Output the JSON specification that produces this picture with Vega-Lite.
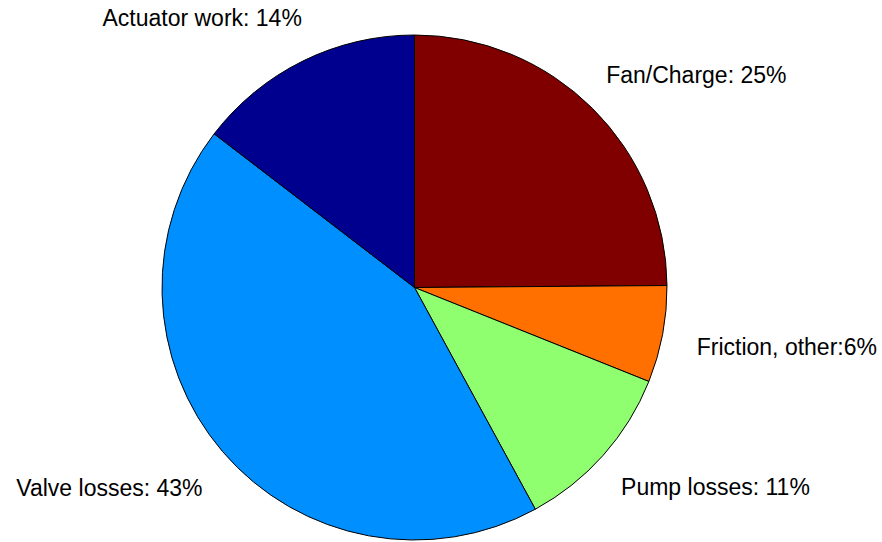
{
  "$schema": "https://vega.github.io/schema/vega-lite/v6.json",
  "width": 505,
  "height": 505,
  "autosize": "none",
  "padding": {"left": 162, "top": 35, "right": 215, "bottom": 2},
  "background": "white",
  "config": {"view": {"stroke": null}},
  "data": {
    "values": [
      {"slice": 1, "part": "Fan/Charge", "value": 24.9, "label": "Fan/Charge: 25%"},
      {"slice": 2, "part": "Friction", "value": 6.2, "label": "Friction, other:6%"},
      {"slice": 3, "part": "Pump", "value": 11.0, "label": "Pump losses: 11%"},
      {"slice": 4, "part": "Valve", "value": 43.4, "label": "Valve losses: 43%"},
      {"slice": 5, "part": "Actuator", "value": 14.6, "label": "Actuator work: 14%"}
    ]
  },
  "encoding": {
    "theta": {"field": "value", "type": "quantitative", "stack": true},
    "order": {"field": "slice", "type": "quantitative", "sort": "ascending"}
  },
  "layer": [
    {
      "mark": {"type": "arc", "outerRadius": 252.5, "stroke": "black", "strokeWidth": 1},
      "encoding": {
        "color": {
          "field": "part",
          "type": "nominal",
          "scale": {
            "domain": ["Fan/Charge", "Friction", "Pump", "Valve", "Actuator"],
            "range": ["#800000", "#FF7000", "#8FFF70", "#008FFF", "#00008F"]
          },
          "legend": null
        }
      }
    },
    {
      "mark": {"type": "text", "radius": 275, "align": "left", "baseline": "alphabetic", "dx": -2, "dy": -9, "font": "Liberation Sans", "fontSize": 23, "fill": "black"},
      "encoding": {"text": {"condition": {"test": "datum.part === 'Fan/Charge'", "field": "label", "type": "nominal"}, "value": ""}}
    },
    {
      "mark": {"type": "text", "radius": 275, "align": "left", "baseline": "alphabetic", "dx": 12, "dy": 16, "font": "Liberation Sans", "fontSize": 23, "fill": "black"},
      "encoding": {"text": {"condition": {"test": "datum.part === 'Friction'", "field": "label", "type": "nominal"}, "value": ""}}
    },
    {
      "mark": {"type": "text", "radius": 275, "align": "left", "baseline": "alphabetic", "dx": 1, "dy": 25, "font": "Liberation Sans", "fontSize": 23, "fill": "black"},
      "encoding": {"text": {"condition": {"test": "datum.part === 'Pump'", "field": "label", "type": "nominal"}, "value": ""}}
    },
    {
      "mark": {"type": "text", "radius": 275, "align": "right", "baseline": "alphabetic", "dx": -3, "dy": 30, "font": "Liberation Sans", "fontSize": 23, "fill": "black"},
      "encoding": {"text": {"condition": {"test": "datum.part === 'Valve'", "field": "label", "type": "nominal"}, "value": ""}}
    },
    {
      "mark": {"type": "text", "radius": 275, "align": "right", "baseline": "alphabetic", "dx": 9, "dy": -15, "font": "Liberation Sans", "fontSize": 23, "fill": "black"},
      "encoding": {"text": {"condition": {"test": "datum.part === 'Actuator'", "field": "label", "type": "nominal"}, "value": ""}}
    }
  ]
}
